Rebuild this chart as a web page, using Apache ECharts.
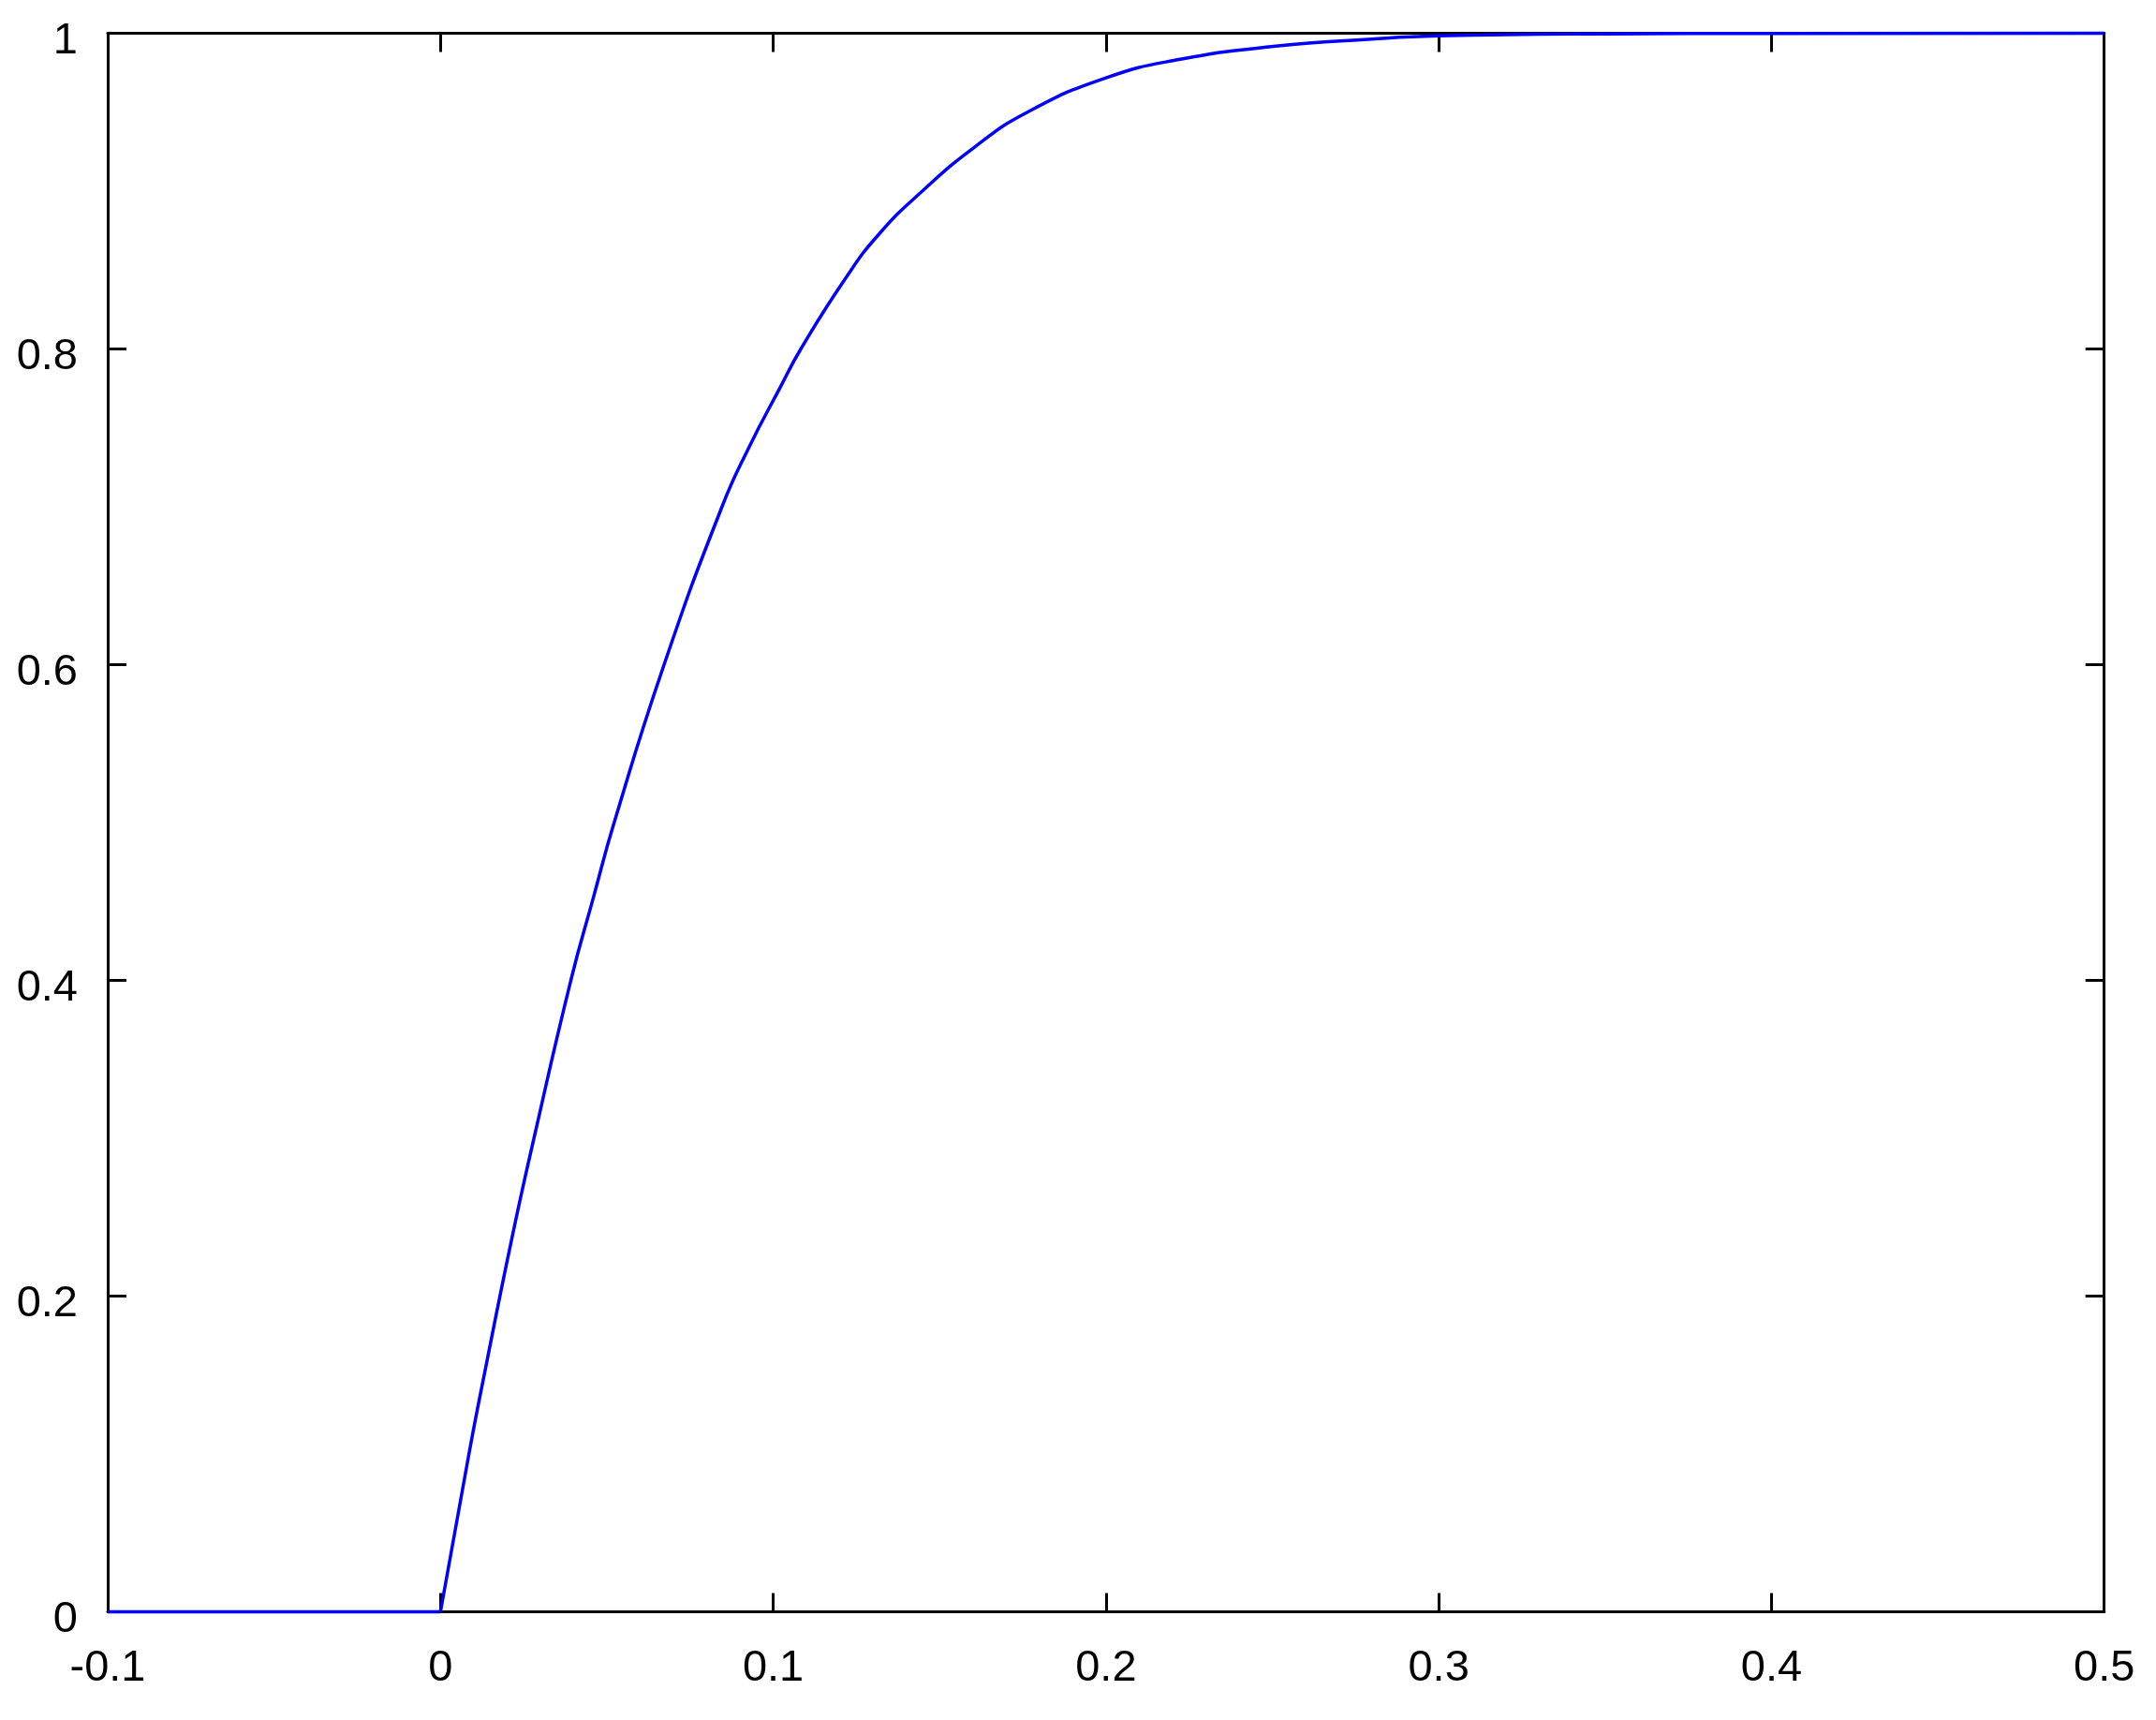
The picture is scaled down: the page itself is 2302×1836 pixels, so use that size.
<!DOCTYPE html>
<html>
<head>
<meta charset="utf-8">
<script src="https://cdn.jsdelivr.net/npm/echarts@6/dist/echarts.min.js"></script>
<style>
html,body{margin:0;padding:0;background:#fff;}
#chart{width:2302px;height:1836px;}
</style>
</head>
<body>
<div id="chart"></div>
<script>
// Data
var flatX = [-0.1, 0];
var flatY = [0, 0];
var curveX = [0, 0.00856, 0.01305, 0.0213, 0.0281, 0.0393, 0.0459, 0.0522, 0.0672, 0.0846, 0.0928, 0.1022, 0.1083, 0.1218, 0.1319, 0.1448, 0.1606, 0.1764, 0.1998, 0.2223, 0.251, 0.2798, 0.2999, 0.35, 0.4, 0.5];
var curveY = [0, 0.1, 0.149, 0.235, 0.3, 0.401, 0.452, 0.5, 0.6, 0.7, 0.738, 0.776, 0.8, 0.845, 0.873, 0.9, 0.928, 0.95, 0.9716, 0.9835, 0.9918, 0.9963, 0.9983, 0.9996, 0.9999, 1.0];
var xTickLabels = ['-0.1', '0', '0.1', '0.2', '0.3', '0.4', '0.5'];
var yTickLabels = ['0', '0.2', '0.4', '0.6', '0.8', '1'];

function pairs(xs, ys) { return xs.map(function (x, i) { return [x, ys[i]]; }); }

var FONT = "'Liberation Sans', Arial, sans-serif";
var lineStyle = { color: '#000', width: 3 };
var tickStyle = { show: true, inside: true, length: 20, lineStyle: { color: '#000', width: 3 } };

function xLabel(v) {
  var idx = Math.round((v + 0.1) / 0.1);
  return xTickLabels[idx] !== undefined ? xTickLabels[idx] : '';
}
function yLabel(v) {
  var idx = Math.round(v / 0.2);
  return yTickLabels[idx] !== undefined ? '{a|' + yTickLabels[idx] + '}' : '';
}

var chart = echarts.init(document.getElementById('chart'), null, { renderer: 'canvas' });
chart.setOption({
  backgroundColor: '#fff',
  animation: false,
  grid: { left: 115, right: 55.3, top: 35.5, bottom: 115.5, containLabel: false },
  xAxis: [
    {
      type: 'value', position: 'bottom', min: -0.1, max: 0.5, interval: 0.1,
      axisLine: { show: true, onZero: false, lineStyle: lineStyle },
      axisTick: tickStyle,
      splitLine: { show: false },
      axisLabel: { show: true, color: '#000', fontSize: 47, fontFamily: FONT, margin: 37, formatter: xLabel, showMinLabel: true, showMaxLabel: true }
    },
    {
      type: 'value', position: 'top', min: -0.1, max: 0.5, interval: 0.1,
      axisLine: { show: true, onZero: false, lineStyle: lineStyle },
      axisTick: tickStyle,
      splitLine: { show: false },
      axisLabel: { show: false }
    }
  ],
  yAxis: [
    {
      type: 'value', position: 'left', min: 0, max: 1, interval: 0.2,
      axisLine: { show: true, onZero: false, lineStyle: lineStyle },
      axisTick: tickStyle,
      splitLine: { show: false },
      axisLabel: {
        show: true, color: '#000', fontSize: 47, fontFamily: FONT, margin: 32, formatter: yLabel,
        showMinLabel: true, showMaxLabel: true,
        rich: { a: { color: '#000', fontSize: 47, fontFamily: FONT, padding: [18, 0, 0, 0] } }
      }
    },
    {
      type: 'value', position: 'right', min: 0, max: 1, interval: 0.2,
      axisLine: { show: true, onZero: false, lineStyle: lineStyle },
      axisTick: tickStyle,
      splitLine: { show: false },
      axisLabel: { show: false }
    }
  ],
  series: [
    {
      type: 'line',
      data: pairs(flatX, flatY),
      showSymbol: false,
      symbol: 'none',
      smooth: false,
      clip: false,
      lineStyle: { color: '#0000ff', width: 3.5 },
      z: 5
    },
    {
      type: 'line',
      data: pairs(curveX, curveY),
      showSymbol: false,
      symbol: 'none',
      smooth: 0.5,
      clip: false,
      lineStyle: { color: '#0000ff', width: 3.5 },
      z: 5
    }
  ]
});
</script>
</body>
</html>
